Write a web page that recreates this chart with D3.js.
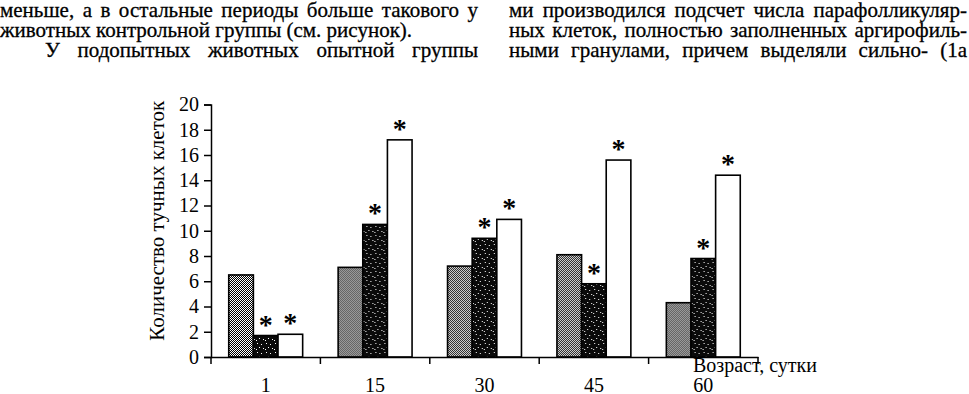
<!DOCTYPE html>
<html>
<head>
<meta charset="utf-8">
<script src="https://cdn.jsdelivr.net/npm/d3@7"></script>
<style>
  body { margin: 0; background: #fff; }
  svg { display: block; }
</style>
</head>
<body>
<svg id="chart"></svg>
<script>
// data
const ages = ['1', '15', '30', '45', '60'];
const groups = ['g1', 'g2', 'g3'];
const group1 = [6.5, 7.1, 7.2, 8.1, 4.3];
const group2 = [1.7, 10.5, 9.4, 5.8, 7.8];
const group3 = [1.8, 17.2, 10.9, 15.6, 14.4];
const starred = [false, true, true]; // asterisk over groups 2 and 3
const yTicks = [0, 2, 4, 6, 8, 10, 12, 14, 16, 18, 20];

// page text around the figure
const leftLines = [
    'меньше, а в остальные периоды больше такового у',
    'животных контрольной группы (см. рисунок).',
    'У подопытных животных опытной группы'
];
const rightLines = [
    'ми производился подсчет числа парафолликуляр-',
    'ных клеток, полностью заполненных аргирофиль-',
    'ными гранулами, причем выделяли сильно- (1а'
];

const W = 969, H = 394;
const FONT = 'Liberation Serif';

const svg = d3.select('#chart')
    .attr('width', W)
    .attr('height', H);

// fills: dithered grey, dark speckled, plain white
const defs = svg.append('defs');
const p1 = defs.append('pattern')
    .attr('id', 'fill1')
    .attr('width', 2).attr('height', 2)
    .attr('patternUnits', 'userSpaceOnUse');
p1.append('rect').attr('width', 2).attr('height', 2).attr('fill', '#fff');
p1.append('rect').attr('width', 1).attr('height', 1).attr('fill', '#000');
p1.append('rect').attr('x', 1).attr('y', 1).attr('width', 1).attr('height', 1).attr('fill', '#000');

const p2 = defs.append('pattern')
    .attr('id', 'fill2')
    .attr('width', 9).attr('height', 9)
    .attr('patternUnits', 'userSpaceOnUse');
p2.append('rect').attr('width', 9).attr('height', 9).attr('fill', '#0a0a0a');
[[1, 1], [5, 2], [3, 5], [7, 6], [0, 7]].forEach(([x, y]) => {
    p2.append('rect').attr('x', x).attr('y', y).attr('width', 1).attr('height', 1).attr('fill', '#fff');
});
const fills = ['url(#fill1)', 'url(#fill2)', '#fff'];

// --- page text (justified by stretching the word gaps) ---
function textLine(str, x, y, width) {
    const t = svg.append('text')
        .attr('x', x)
        .attr('y', y)
        .attr('font-family', FONT)
        .style('font-family', FONT)
        .style('font-size', '21px')
        .attr('fill', '#000')
        .attr('stroke', '#000')
        .attr('stroke-width', 0.3)
        .text(str);
    if (width) {
        const natural = t.node().getComputedTextLength();
        const spaces = (str.match(/ /g) || []).length;
        if (spaces > 0) t.style('word-spacing', Math.max(0, (width - natural) / spaces) + 'px');
    }
}
textLine(leftLines[0], 0, 17, 478);
textLine(leftLines[1], 0, 37, null);
textLine(leftLines[2], 45, 57, 433);
rightLines.forEach((s, i) => textLine(s, 509, 17 + i * 20, 458));

// --- chart ---
const x = d3.scaleBand()
    .domain(ages)
    .range([211, 758])
    .paddingInner(0)
    .paddingOuter(0);

const xin = d3.scaleBand()
    .domain(groups)
    .range([0, x.bandwidth()])
    .paddingInner(0)
    .paddingOuter(0.72);

const y = d3.scaleLinear()
    .domain([0, 20])
    .range([357, 104.5]);

const rows = ages.map((a, i) => ({
    age: a,
    vals: [group1[i], group2[i], group3[i]]
}));

const chart = svg.append('g');

const cat = chart.selectAll('g.cat')
    .data(rows)
    .join('g')
    .attr('class', 'cat')
    .attr('transform', d => `translate(${x(d.age)},0)`);

cat.selectAll('rect')
    .data(d => d.vals.map((v, j) => ({ key: groups[j], v: v, j: j })))
    .join('rect')
    .attr('x', d => xin(d.key))
    .attr('y', d => y(d.v))
    .attr('width', xin.bandwidth())
    .attr('height', d => y(0) - y(d.v))
    .attr('fill', d => fills[d.j])
    .attr('stroke', '#000')
    .attr('stroke-width', 1.6);

cat.selectAll('text.star')
    .data(d => d.vals.map((v, j) => ({ key: groups[j], v: v, j: j })).filter(d => starred[d.j]))
    .join('text')
    .attr('class', 'star')
    .attr('x', d => xin(d.key) + xin.bandwidth() / 2)
    .attr('y', d => y(d.v) - 2)
    .attr('text-anchor', 'middle')
    .attr('font-family', FONT)
    .style('font-size', '28px')
    .style('font-weight', 'bold')
    .text('*');

// y axis
const yaxis = d3.axisLeft(y)
    .tickValues(yTicks)
    .tickSize(7)
    .tickPadding(5)
    .tickFormat(d3.format('d'));

const yg = chart.append('g')
    .attr('transform', 'translate(211,0)')
    .call(yaxis)
    .attr('font-family', FONT);
yg.select('.domain').attr('stroke-width', 1.5);
yg.selectAll('.tick line').attr('stroke-width', 1.5);
yg.selectAll('.tick text')
    .style('font-family', FONT)
    .style('font-size', '20px');

// x axis: labels under band centres, ticks on band edges
const xaxis = d3.axisBottom(x)
    .tickSize(0)
    .tickPadding(21);
const xg = chart.append('g')
    .attr('transform', `translate(0,${y(0)})`)
    .call(xaxis)
    .attr('font-family', FONT);
xg.select('.domain').attr('stroke-width', 1.5);
xg.selectAll('.tick text')
    .style('font-family', FONT)
    .style('font-size', '20px');

const edges = ages.map(a => x(a)).concat([x.range()[1]]);
xg.selectAll('line.edge')
    .data(edges)
    .join('line')
    .attr('class', 'edge')
    .attr('x1', d => d).attr('x2', d => d)
    .attr('y1', 0).attr('y2', 7)
    .attr('stroke', '#000')
    .attr('stroke-width', 1.5);

// axis titles
svg.append('text')
    .attr('transform', `translate(164,${(y(0) + y(20)) / 2 - 10}) rotate(-90)`)
    .attr('text-anchor', 'middle')
    .attr('font-family', FONT)
    .style('font-size', '21px')
    .text('Количество тучных клеток');

svg.append('text')
    .attr('x', 693)
    .attr('y', 372)
    .attr('font-family', FONT)
    .style('font-size', '20px')
    .text('Возраст, сутки');
</script>
</body>
</html>
